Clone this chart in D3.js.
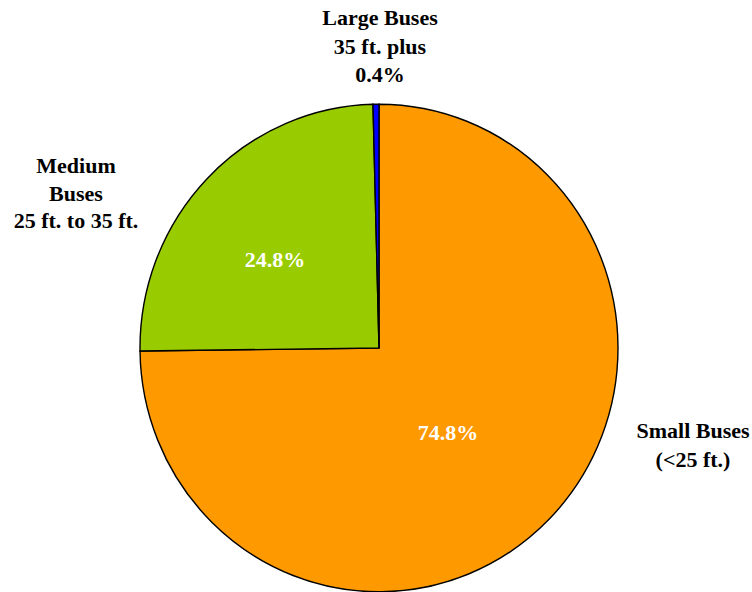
<!DOCTYPE html>
<html>
<head>
<meta charset="utf-8">
<script src="https://cdn.jsdelivr.net/npm/d3@7"></script>
<style>
  body { margin: 0; background: #fff; }
</style>
</head>
<body>
<script>
// chart data
var categories = ['Small Buses', 'Medium Buses', 'Large Buses'];
var shares = [74.8, 24.8, 0.4];
var colors = ['#FF9900', '#99CC00', '#0000FF'];
var outerLabels = [['Small Buses', '(<25 ft.)'], ['Medium', 'Buses', '25 ft. to 35 ft.'], ['Large Buses', '35 ft. plus', '0.4%']];
var innerLabels = ['74.8%', '24.8%', ''];

var FONT = "'Liberation Serif', 'Times New Roman', serif";

function drawChart(){
    var width = 752, height = 592;
    var cx = 379, cy = 348, r = 239;

    var svg = d3.select('body').append('svg')
        .attr('width', width)
        .attr('height', height);

    //pie goes clockwise from 12 o'clock in data order
    var pie = d3.pie().sort(null).value(function(d){ return d; });
    var arc = d3.arc().innerRadius(0).outerRadius(r);
    var arcs = pie(shares);

    var g = svg.append('g')
        .attr('transform', 'translate(' + cx + ',' + cy + ') scale(1,1.02)');

    g.selectAll('.slice')
        .data(arcs)
        .enter()
        .append('path')
        .attr('class', 'slice')
        .attr('d', arc)
        .attr('fill', function(d, i){ return colors[i]; })
        .attr('stroke', '#000')
        .attr('stroke-width', 1.4);

    //white percentages inside slices (baseline positions)
    var inPos = [[448, 440], [275, 267]];
    svg.selectAll('.inlab')
        .data(innerLabels.slice(0, 2))
        .enter()
        .append('text')
        .attr('class', 'inlab')
        .attr('x', function(d, i){ return inPos[i][0]; })
        .attr('y', function(d, i){ return inPos[i][1]; })
        .attr('text-anchor', 'middle')
        .attr('fill', '#fff')
        .attr('font-family', FONT)
        .attr('font-weight', 'bold')
        .attr('font-size', 22)
        .text(function(d){ return d; });

    //outside labels, first baseline + line step
    var outPos = [[693, 438, 28.5], [76, 173, 27.5], [380, 25, 28.5]];
    outerLabels.forEach(function(lines, i){
        var t = svg.append('text')
            .attr('text-anchor', 'middle')
            .attr('font-family', FONT)
            .attr('font-weight', 'bold')
            .attr('font-size', 22)
            .attr('fill', '#000');
        lines.forEach(function(s, j){
            t.append('tspan')
                .attr('x', outPos[i][0])
                .attr('y', outPos[i][1] + j * outPos[i][2])
                .text(s);
        });
    });
}

window.onload = drawChart;
</script>
</body>
</html>
